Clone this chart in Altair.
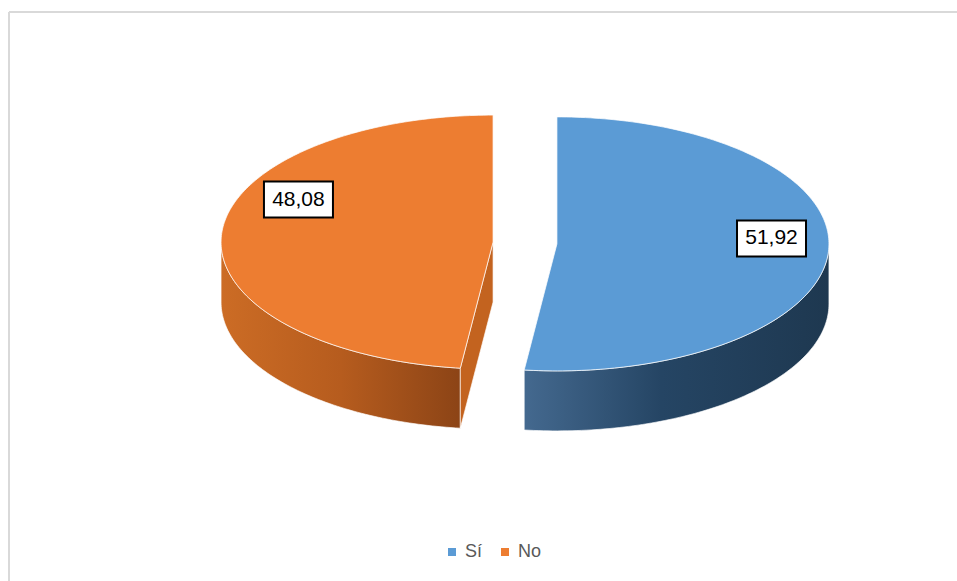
import math
import altair as alt
import pandas as pd

# ---- data ----
categories = ["Sí", "No"]
values = [51.92, 48.08]
label_texts = ["51,92", "48,08"]
top_colors = ["#5B9BD5", "#ED7D31"]

# ---- layout / style parameters (pixels of the plot area) ----
PAD_L, PAD_T = 9, 12
W, H = 957 - PAD_L, 581 - PAD_T
CX, CY = 516, 231          # pie centre
RX, RY = 272, 127          # ellipse radii of the top face
DEPTH = 60                 # thickness of the 3D pie
EXPLODE = 32               # explosion distance
LABEL_FRAC = [0.465, 0.625]  # where inside each slice its label sits
LABEL_R = 0.79
BOX_W, BOX_H = 69, 36

wall_gradients = [
    {"gradient": "linear", "x1": 0, "y1": 0, "x2": 1, "y2": 0,
     "stops": [{"offset": 0, "color": "#44698f"},
               {"offset": 0.45, "color": "#254564"},
               {"offset": 1, "color": "#1e3850"}]},
    {"gradient": "linear", "x1": 0, "y1": 0, "x2": 1, "y2": 0,
     "stops": [{"offset": 0, "color": "#cc6c25"},
               {"offset": 0.5, "color": "#b65c1e"},
               {"offset": 1, "color": "#8c4416"}]},
]
cut_color = "#c3631f"

total = sum(values)


def pt(cx, cy, deg, r=1.0, dy=0.0):
    a = math.radians(deg)
    return cx + r * RX * math.sin(a), cy - r * RY * math.cos(a) + dy


tops, walls, cuts, labels = [], [], [], []
start = 0.0
for k, (cat, v) in enumerate(zip(categories, values)):
    span = 360.0 * v / total
    end = start + span
    mid = start + span / 2
    cx = CX + EXPLODE * math.sin(math.radians(mid))
    cy = CY - EXPLODE * (RY / RX) * math.cos(math.radians(mid))
    n = max(int(span), 2)
    # top face
    rows = [(cx, cy)] + [pt(cx, cy, start + span * j / n) for j in range(n + 1)]
    for i, (x, y) in enumerate(rows):
        tops.append({"cat": cat, "part": f"top{k}", "i": i, "x": x, "y": y})
    # outer wall (front half only)
    a0, a1 = max(start, 90.0), min(end, 270.0)
    if a1 > a0:
        m = max(int(a1 - a0), 2)
        upper = [pt(cx, cy, a0 + (a1 - a0) * j / m) for j in range(m + 1)]
        lower = [pt(cx, cy, a1 - (a1 - a0) * j / m, dy=DEPTH) for j in range(m + 1)]
        for i, (x, y) in enumerate(upper + lower):
            walls.append({"cat": cat, "part": f"wall{k}", "i": i, "x": x, "y": y})
    # visible cut face (start edge facing the gap)
    if 90 < start < 270:
        ex, ey = pt(cx, cy, start)
        quad = [(cx, cy), (ex, ey), (ex, ey + DEPTH), (cx, cy + DEPTH)]
        for i, (x, y) in enumerate(quad):
            cuts.append({"cat": cat, "part": f"cut{k}", "i": i, "x": x, "y": y})
    # label
    lx, ly = pt(cx, cy, start + span * LABEL_FRAC[k], r=LABEL_R)
    labels.append({"cat": cat, "text": label_texts[k], "x": lx, "y": ly,
                   "x0": lx - BOX_W / 2, "x1": lx + BOX_W / 2,
                   "y0": ly - BOX_H / 2, "y1": ly + BOX_H / 2})
    start = end

tops_df = pd.DataFrame(tops)
walls_df = pd.DataFrame(walls)
cuts_df = pd.DataFrame(cuts)
labels_df = pd.DataFrame(labels)

xs = alt.Scale(domain=[0, W])
ys = alt.Scale(domain=[0, H], reverse=True)
X = alt.X("x:Q", scale=xs, axis=None)
Y = alt.Y("y:Q", scale=ys, axis=None)

layers = []

# chart-area frame (only top and left edges fall inside the picture)
frame_top = alt.Chart().mark_rule(color="#d9d9d9", strokeWidth=2).encode(
    x=alt.value(0), x2=alt.value(W), y=alt.value(0))
frame_left = alt.Chart().mark_rule(color="#d9d9d9", strokeWidth=2).encode(
    x=alt.value(0), y=alt.value(0), y2=alt.value(H))
layers += [frame_top, frame_left]

for k, cat in enumerate(categories):
    d = walls_df[walls_df["cat"] == cat]
    if len(d):
        layers.append(
            alt.Chart(d).mark_line(interpolate="linear-closed", fill=wall_gradients[k],
                                   stroke="white", strokeWidth=0.8, strokeOpacity=0.8)
            .encode(x=X, y=Y, order=alt.Order("i:Q"), detail="part:N")
        )

if len(cuts_df):
    layers.append(
        alt.Chart(cuts_df).mark_line(interpolate="linear-closed", fill=cut_color,
                                     stroke="white", strokeWidth=0.8, strokeOpacity=0.8)
        .encode(x=X, y=Y, order=alt.Order("i:Q"), detail="part:N")
    )

top_layer = alt.Chart(tops_df).mark_line(
    interpolate="linear-closed", stroke="white", strokeWidth=0.8, strokeOpacity=0.9
).encode(
    x=X, y=Y, order=alt.Order("i:Q"), detail="part:N",
    fill=alt.Fill("cat:N", scale=alt.Scale(domain=categories, range=top_colors),
                  legend=alt.Legend(orient="none", legendX=434, legendY=531,
                                    direction="horizontal", title=None,
                                    symbolType="square", symbolSize=64,
                                    symbolStrokeWidth=0, labelFontSize=18,
                                    labelColor="#595959", labelFont="Liberation Sans",
                                    labelOffset=4, columnPadding=13)),
)
layers.append(top_layer)

boxes = alt.Chart(labels_df).mark_rect(fill="white", stroke="black", strokeWidth=2).encode(
    x=alt.X("x0:Q", scale=xs, axis=None), x2="x1:Q",
    y=alt.Y("y0:Q", scale=ys, axis=None), y2="y1:Q",
)
texts = alt.Chart(labels_df).mark_text(
    font="Liberation Sans", fontSize=21, color="black", baseline="middle", align="center"
).encode(x=X, y=Y, text="text:N")
layers += [boxes, texts]

chart = alt.layer(*layers).properties(
    width=W, height=H, autosize="none",
    padding={"left": PAD_L, "top": PAD_T, "right": 0, "bottom": 0},
).configure_view(stroke=None)

chart.save("out.html", embed_options={"renderer": "svg", "actions": False})
